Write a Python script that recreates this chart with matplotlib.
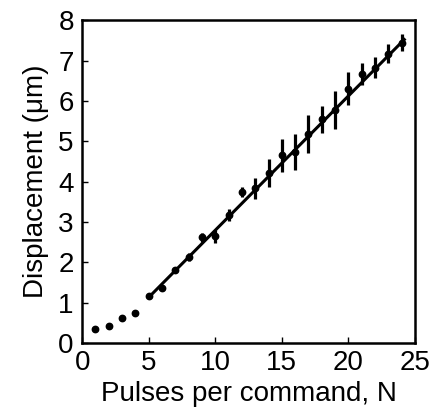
import matplotlib.pyplot as plt

plt.rcParams['font.family'] = ['Liberation Sans', 'DejaVu Sans']

# Pulses per command and measured displacement (um)
pulses = [1, 2, 3, 4, 5, 6, 7, 8, 9, 10, 11, 12,
          13, 14, 15, 16, 17, 18, 19, 20, 21, 22, 23, 24]
disp = [0.35, 0.43, 0.63, 0.75, 1.16, 1.37, 1.82, 2.14, 2.62, 2.65, 3.17, 3.75,
        3.83, 4.22, 4.65, 4.74, 5.19, 5.54, 5.77, 6.30, 6.67, 6.82, 7.17, 7.44]
err = [0.02, 0.02, 0.03, 0.07, 0.04, 0.06, 0.06, 0.10, 0.11, 0.16, 0.15, 0.12,
       0.25, 0.35, 0.41, 0.45, 0.47, 0.33, 0.47, 0.41, 0.27, 0.26, 0.23, 0.21]

# linear fit line endpoints
fit_x = [5, 24.2]
fit_y = [1.13, 7.52]

fig = plt.figure(figsize=(4.30, 4.12), dpi=100)
ax = fig.add_axes([0.191, 0.1675, 0.774, 0.7835])

ax.plot(fit_x, fit_y, color='black', lw=2.2, zorder=2)
ax.errorbar(pulses, disp, yerr=err, fmt='o', color='black', ms=4.6,
            elinewidth=2.3, capsize=0, zorder=3)

ax.set_xlim(0, 25)
ax.set_ylim(0, 8)
ax.set_xticks([0, 5, 10, 15, 20, 25])
ax.set_yticks(range(9))

ax.tick_params(direction='in', length=4, width=1, labelsize=20,
               top=False, right=False)
ax.tick_params(axis='y', pad=6)
ax.tick_params(axis='x', pad=5)
for sp in ax.spines.values():
    sp.set_linewidth(1.8)

ax.set_xlabel('Pulses per command, N', fontsize=20, labelpad=4)
ax.set_ylabel('Displacement (μm)', fontsize=20, labelpad=7)

fig.savefig('out.png', dpi=100)
